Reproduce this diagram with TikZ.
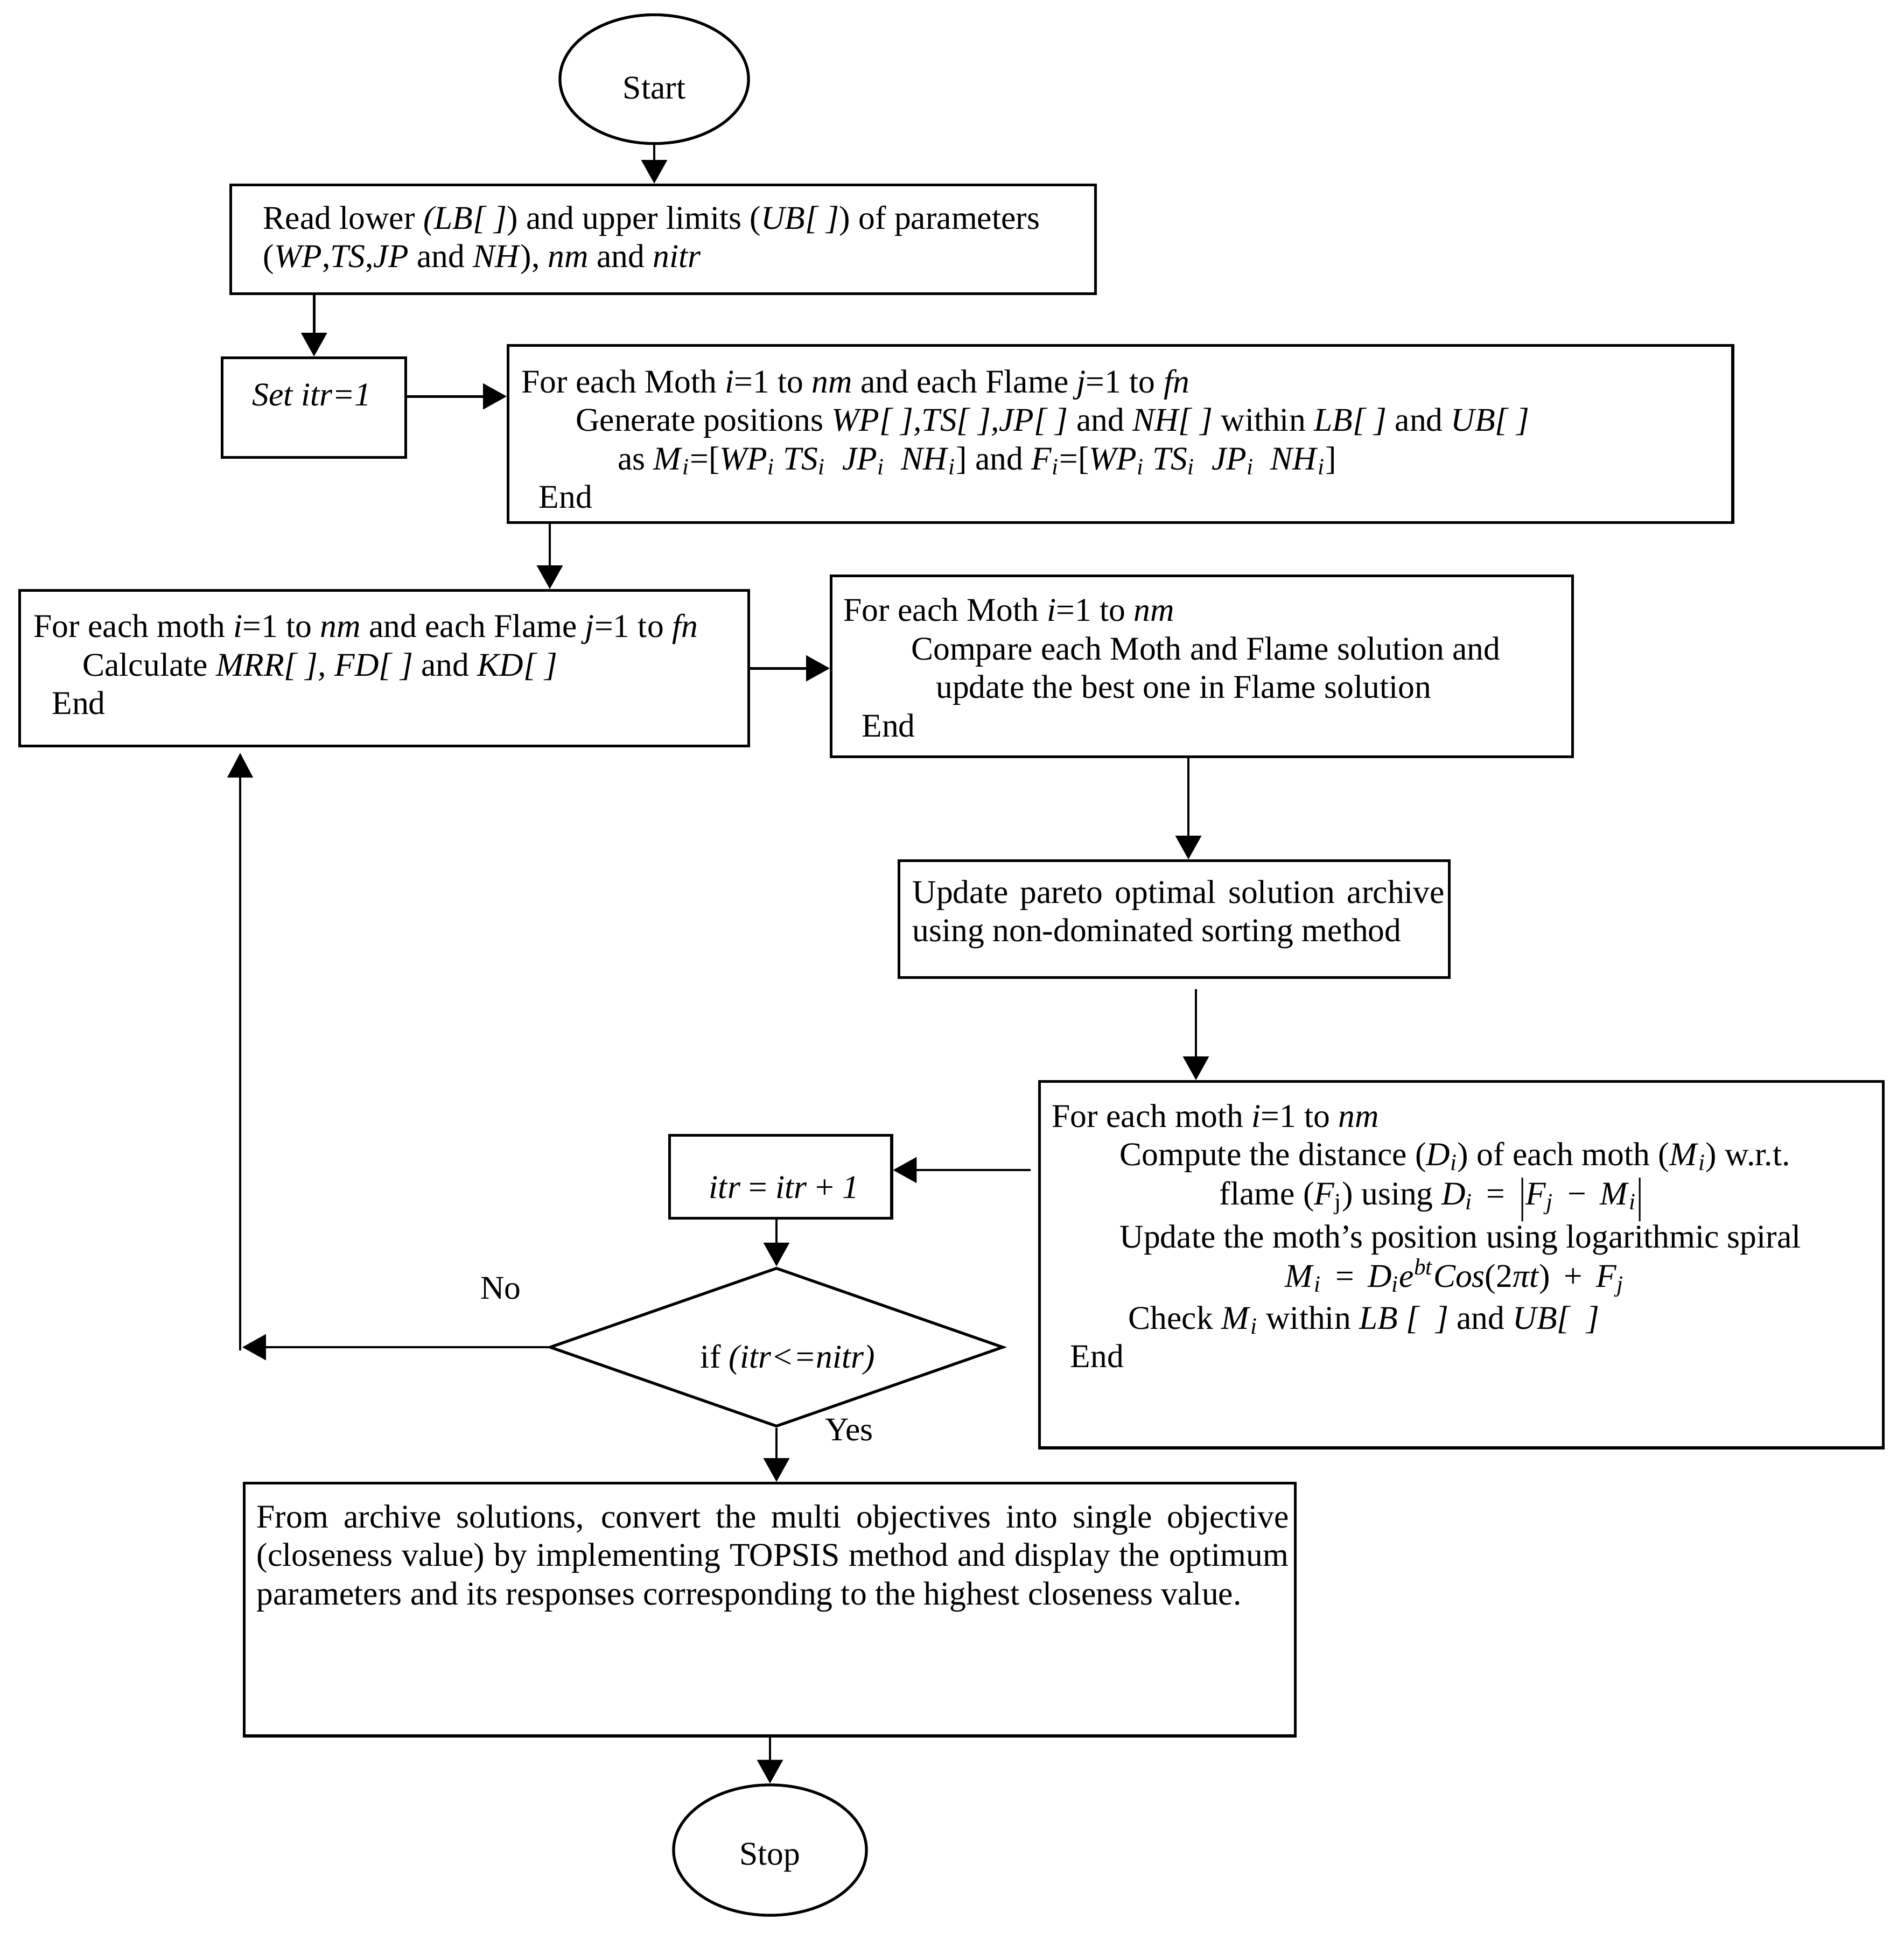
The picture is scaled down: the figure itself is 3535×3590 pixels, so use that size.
\documentclass[tikz,border=0pt]{standalone}
\usepackage{fontspec}
\setmainfont{Liberation Serif}
\usetikzlibrary{shapes.geometric,arrows.meta,calc}
\newcommand{\fsz}{\fontsize{17.5}{20.3}\selectfont}
\newcommand{\sbi}[1]{\textsubscript{\textit{#1}}}
\begin{document}
\begin{tikzpicture}[x=0.01cm,y=-0.01cm,
  box/.style={draw, line width=1.5pt, rectangle, anchor=north west, inner sep=0pt},
  term/.style={draw, line width=1.5pt, ellipse, inner sep=0pt},
  txt/.style={font=\fsz, inner sep=0pt, align=left, anchor=west},
  ltxt/.style={font=\fsz, inner sep=0pt, anchor=base west},
  lbl/.style={font=\fsz, inner sep=0pt},
  arr/.style={line width=1.4pt, -{Triangle[length=12.5pt,width=13.5pt]}},
  thinarr/.style={line width=0.9pt, -{Triangle[length=13pt,width=13.5pt]}}]
\useasboundingbox (0,0) rectangle (3535,3590);

% shapes
\node[term, minimum width=3.5cm, minimum height=2.39cm] (start) at (1215,147) {};
\node[lbl] (tstart) at (1215,163) {Start};

\node[box, minimum width=16.05cm, minimum height=2.02cm] (b1) at (426,341) {};
\node[txt] (t1) at (488,446) {Read lower \textit{(LB[~]}) and upper limits (\textit{UB[~]}) of parameters\\
(\textit{WP},\textit{TS},\textit{JP} and \textit{NH}), \textit{nm} and \textit{nitr}};

\node[box, minimum width=3.41cm, minimum height=1.85cm] (bset) at (410,662) {};
\node[lbl] (tset) at (579,733) {\textit{Set itr=1}};

\node[box, minimum width=22.73cm, minimum height=3.29cm] (b2) at (941,639) {};
\node[txt] (t2) at (968,815) {For each Moth \textit{i}=1 to \textit{nm} and each Flame \textit{j}=1 to \textit{fn}\\
\hspace*{28.6pt}Generate positions \textit{WP[ ],TS[ ],JP[ ]} and \textit{NH[ ]} within \textit{LB[ ]} and \textit{UB[ ]}\\
\hspace*{50.7pt}as \textit{M}\sbi{i}=[\textit{WP}\sbi{i} \textit{TS}\sbi{i}~ \textit{JP}\sbi{i}~ \textit{NH}\sbi{i}] and \textit{F}\sbi{i}=[\textit{WP}\sbi{i} \textit{TS}\sbi{i}~ \textit{JP}\sbi{i}~ \textit{NH}\sbi{i}]\\
\hspace*{9.1pt}End};

\node[box, minimum width=13.53cm, minimum height=2.89cm] (b3) at (34,1094) {};
\node[txt] (t3) at (62,1234) {For each moth \textit{i}=1 to \textit{nm} and each Flame \textit{j}=1 to \textit{fn}\\
\hspace*{25.8pt}Calculate \textit{MRR[ ], FD[ ]} and \textit{KD[ ]}\\
\hspace*{9.6pt}End};

\node[box, minimum width=13.76cm, minimum height=3.36cm] (b4) at (1541,1067) {};
\node[txt] (t4) at (1566,1240) {For each Moth \textit{i}=1 to \textit{nm}\\
\hspace*{35.7pt}Compare each Moth and Flame solution and\\
\hspace*{48.8pt}update the best one in Flame solution\\
\hspace*{9.6pt}End};

\node[box, minimum width=10.21cm, minimum height=2.17cm] (b5) at (1667,1596) {};
\node[txt, text width=281pt, align=justify] (t5) at (1694,1698) {Update pareto optimal solution archive\linebreak using non-dominated sorting method};

\node[box, minimum width=15.66cm, minimum height=6.80cm] (b6) at (1928,2006) {};
\node[ltxt] (t6a) at (1953,2093) {For each moth \textit{i}=1 to \textit{nm}};
\node[ltxt] (t6b) at (2079,2164) {Compute the distance (\textit{D}\sbi{i}) of each moth (\textit{M}\sbi{i}) w.r.t.};
\node[ltxt] (t6c) at (2264,2237) {flame (\textit{F}\textsubscript{j}) using \textit{D}\sbi{i}\, = \,\raisebox{-0.2em}{\scalebox{1}[1.45]{|}}\textit{F}\sbi{j}\, − \,\textit{M}\sbi{i}\raisebox{-0.2em}{\scalebox{1}[1.45]{|}}};
\node[ltxt] (t6d) at (2079,2317) {Update the moth’s position using logarithmic spiral};
\node[ltxt] (t6e) at (2386,2390) {\textit{M}\sbi{i}\, = \,\textit{D}\sbi{i}\textit{e}\textsuperscript{\textit{bt}}\textit{Cos}(2\textit{πt})\, + \,\textit{F}\sbi{j}};
\node[ltxt] (t6f) at (2095,2468) {Check \textit{M}\sbi{i} within \textit{LB [~~]} and \textit{UB[~~]}};
\node[ltxt] (t6g) at (1987,2539) {End};

\node[box, minimum width=4.12cm, minimum height=1.54cm] (bitr) at (1241,2106) {};
\node[lbl] (titr) at (1456,2205) {\textit{itr} = \textit{itr} + \textit{1}};

\node[draw, line width=1.5pt, diamond, minimum width=8.42cm, minimum height=2.95cm, inner sep=0pt] (dia) at (1442,2502) {};
\node[lbl] (tdia) at (1463,2525) {if \textit{(itr<=nitr)}};

\node[lbl] (lno) at (930,2393) {No};
\node[lbl] (lyes) at (1577,2656) {Yes};

\node[box, minimum width=19.51cm, minimum height=4.69cm] (b7) at (451,2752) {};
\node[txt, text width=545pt, align=justify] (t7) at (476,2894) {From archive solutions, convert the multi objectives into single objective\linebreak
(closeness value) by implementing TOPSIS method and display the optimum\linebreak
parameters and its responses corresponding to the highest closeness value.};

\node[term, minimum width=3.58cm, minimum height=2.42cm] (stop) at (1430,3436) {};
\node[lbl] (tstop) at (1430,3450) {Stop};

% helper coordinates
\coordinate (xa) at (1021,0);
\coordinate (xb) at (2207,0);
\coordinate (xc) at (2221,0);
\coordinate (yc) at (0,2173);
\coordinate (cn) at (446,2502);

% connectors
\draw[arr] (start.south) -- (start.south |- b1.north);
\draw[arr] (bset.north |- b1.south) -- (bset.north);
\draw[arr] ([yshift=0.21cm]bset.east) -- ([yshift=0.21cm]bset.east -| b2.west);
\draw[arr] (b2.south -| xa) -- (b3.north -| xa);
\draw[arr] (b3.east) -- (b3.east -| b4.west);
\draw[arr] (b4.south -| xb) -- (b5.north -| xb);
\draw[arr, shorten <=0.19cm] (b5.south -| xc) -- (b6.north -| xc);
\draw[arr, shorten <=0.14cm] (b6.west |- yc) -- (bitr.east |- yc);
\draw[arr] (bitr.south -| dia.north) -- (dia.north);
\draw[arr, shorten >=0.04cm] (dia.west) -- (cn);
\draw[thinarr, shorten >=0.1cm] ([yshift=-0.06cm]cn) -- (cn |- b3.south);
\draw[arr] (dia.south) -- (dia.south |- b7.north);
\draw[arr] (b7.south -| stop.north) -- (stop.north);
\end{tikzpicture}
\end{document}
